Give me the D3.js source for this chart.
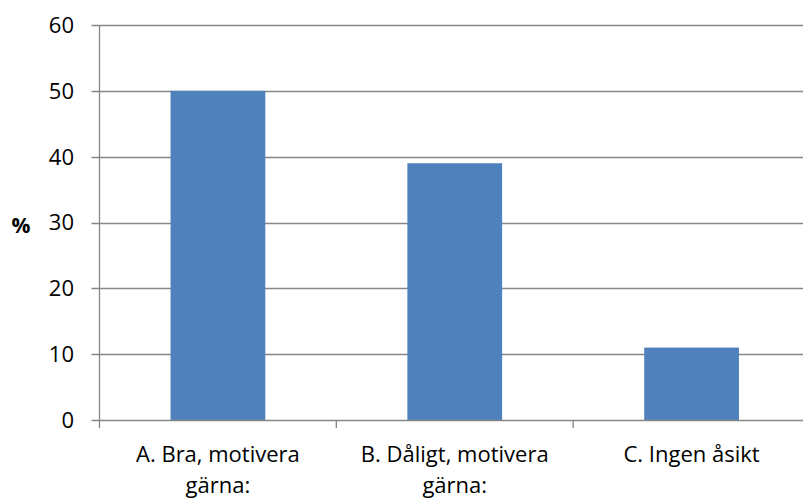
<!DOCTYPE html>
<html><head><meta charset="utf-8">
<script src="https://cdn.jsdelivr.net/npm/d3@7"></script>
<style>body{margin:0;background:#fff;}svg{display:block;font-family:"Open Sans",sans-serif;}</style>
</head><body>
<svg id="c" width="803" height="499"></svg>
<script>
const categories = ["A. Bra, motivera gärna:", "B. Dåligt, motivera gärna:", "C. Ingen åsikt"];
const values = [50, 39, 11];
const yTicks = [0, 10, 20, 30, 40, 50, 60];
const yLabel = "%";

(function () {
const svg = d3.select("#c");
const mLeft = 99.5, mRight = 810, mTop = 25, mBottom = 420;
const fs = 22;
const x = d3.scaleBand().domain(categories).range([mLeft, mRight]).paddingInner(0.6).paddingOuter(0.3);
const y = d3.scaleLinear().domain([0, 60]).range([mBottom, mTop]);
const grid = "#868686";

// gridlines
svg.append("g").selectAll("line").data(yTicks.filter(d => d > 0)).join("line")
  .attr("x1", mLeft - 8).attr("x2", mRight)
  .attr("y1", d => Math.round(y(d)) + 0.5).attr("y2", d => Math.round(y(d)) + 0.5)
  .attr("stroke", grid).attr("stroke-width", 1.3);

// bars
svg.append("g").selectAll("rect").data(values).join("rect")
  .attr("x", (d, i) => x(categories[i]))
  .attr("width", x.bandwidth())
  .attr("y", d => y(d))
  .attr("height", d => y(0) - y(d))
  .attr("fill", "#4F81BD");

// axes lines
svg.append("line").attr("x1", mLeft).attr("x2", mLeft).attr("y1", mTop).attr("y2", mBottom)
  .attr("stroke", grid).attr("stroke-width", 1.3);
svg.append("line").attr("x1", mLeft - 8).attr("x2", mRight).attr("y1", mBottom + 0.5).attr("y2", mBottom + 0.5)
  .attr("stroke", grid).attr("stroke-width", 1.3);

svg.append("g").selectAll("text").data(yTicks).join("text")
  .attr("x", 74).attr("y", d => y(d)).attr("dy", "0.36em")
  .attr("text-anchor", "end").attr("font-size", fs).attr("fill", "#000")
  .text(d => d);

// x category ticks
const step = x.step();
const bounds = d3.range(categories.length + 1).map(i => mLeft + i * step);
svg.append("g").selectAll("line").data(bounds).join("line")
  .attr("x1", d => d).attr("x2", d => d).attr("y1", mBottom).attr("y2", mBottom + 8)
  .attr("stroke", grid).attr("stroke-width", 1.3);

// category labels with wrapping
function wrapLines(text, maxW, size) {
  const words = text.split(" ");
  const lines = [];
  let cur = "";
  const tmp = svg.append("text").attr("font-size", size);
  words.forEach(w => {
    const t = cur ? cur + " " + w : w;
    tmp.text(t);
    if (tmp.node().getComputedTextLength() > maxW && cur) { lines.push(cur); cur = w; }
    else cur = t;
  });
  if (cur) lines.push(cur);
  tmp.remove();
  return lines;
}
categories.forEach(c => {
  const lines = wrapLines(c, 205, fs);
  const t = svg.append("text").attr("text-anchor", "middle").attr("font-size", fs).attr("fill", "#000");
  lines.forEach((l, i) => {
    t.append("tspan").attr("x", x(c) + x.bandwidth() / 2).attr("y", 462 + i * 31).text(l);
  });
});

// y label
svg.append("text").attr("x", 21).attr("y", 225).attr("dy", "0.36em").attr("text-anchor", "middle")
  .attr("font-size", 21).attr("font-weight", "bold").text(yLabel);
})();
</script>
</body></html>
